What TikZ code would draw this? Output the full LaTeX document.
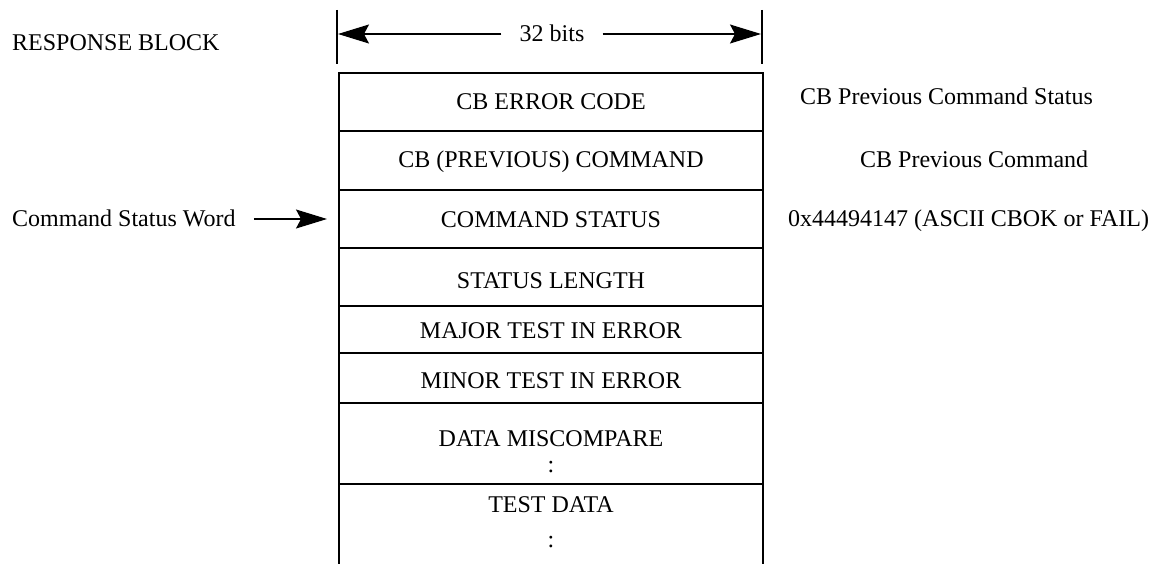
\documentclass[tikz,border=0pt]{standalone}
\usepackage{fontspec}
\setmainfont{Liberation Serif}
\usetikzlibrary{arrows.meta}
\begin{document}
\begin{tikzpicture}[x=1pt,y=-1pt,
  lbl/.style={inner sep=0pt,anchor=base,font=\fontsize{24}{28}\selectfont},
  lbll/.style={lbl,anchor=base west},
  boxline/.style={line width=1.3pt,line cap=rect},
  arr/.style={line width=1.3pt,-{Stealth[length=31pt,width=19pt,inset=5pt]}}]
\useasboundingbox (0,0) rectangle (1162,564);
% dimension ticks
\draw[line width=1.3pt] (337,10) -- (337,64);
\draw[line width=1.3pt] (762,10) -- (762,64);
\node[font=\fontsize{24}{28}\selectfont,inner xsep=18pt,inner ysep=0pt,anchor=base] (bits) at (552,42) {32 bits};
\coordinate (lt) at (338,34);
\coordinate (rt) at (761,34);
\draw[arr] (bits.west |- lt) -- (lt);
\draw[arr] (bits.east |- rt) -- (rt);
% box
\draw[boxline] (339,564) -- (339,73) -- (763,73) -- (763,564);
\foreach \yy in {131,190,248,306,353,403,484}
  \draw[boxline] (339,\yy) -- (763,\yy);
% row texts
\node[lbl] (r1) at (551,110) {CB ERROR CODE};
\node[lbl] (r2) at (551,168) {CB (PREVIOUS) COMMAND};
\node[lbl] (r3) at (551,228) {COMMAND STATUS};
\node[lbl] (r4) at (551,288) {STATUS LENGTH};
\node[lbl] (r5) at (551,338) {MAJOR TEST IN ERROR};
\node[lbl] (r6) at (551,388) {MINOR TEST IN ERROR};
\node[lbl] (r7) at (551,446) {DATA MISCOMPARE};
\node[lbl] (r7c) at (551,472) {:};
\node[lbl] (r8) at (551,512) {TEST DATA};
\node[lbl] (r8c) at (551,547) {:};
% left texts
\node[lbll] (title) at (12,51) {RESPONSE BLOCK};
\node[font=\fontsize{24}{28}\selectfont,inner xsep=18pt,inner ysep=0pt,anchor=base west] (csw) at (-6,227) {Command Status Word};
\coordinate (cswend) at (327,219);
\draw[arr] (csw.east |- cswend) -- (cswend);
% right texts
\node[lbll] (n1) at (800,105) {CB Previous Command Status};
\node[lbll] (n2) at (860,168) {CB Previous Command};
\node[lbll] (n3) at (788,227) {0x44494147 (ASCII CBOK or FAIL)};
\end{tikzpicture}
\end{document}
